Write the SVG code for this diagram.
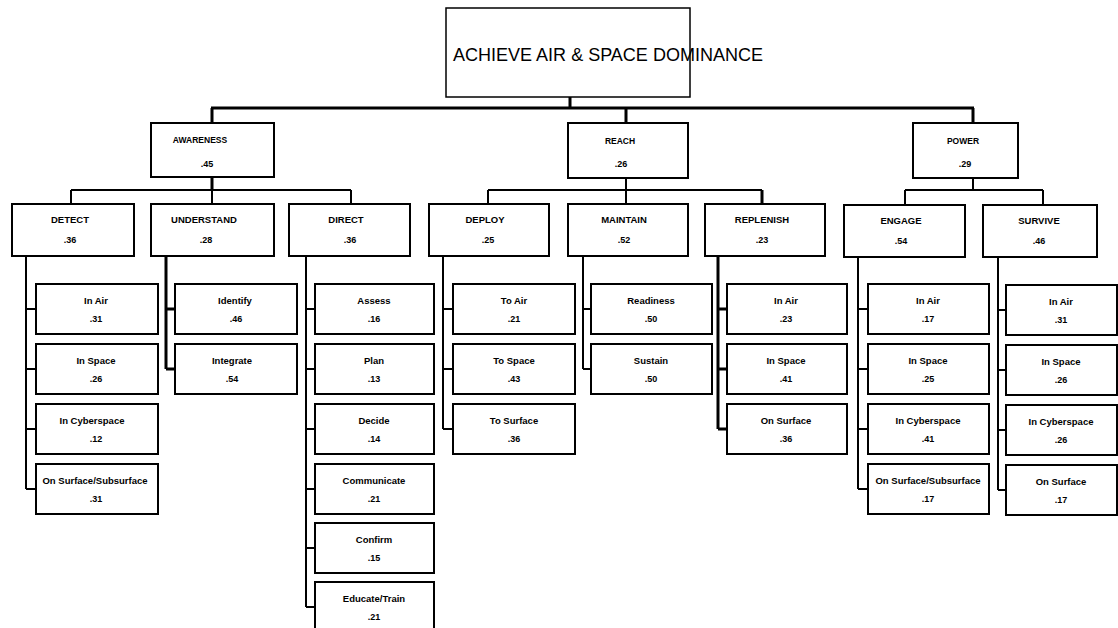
<svg xmlns="http://www.w3.org/2000/svg" width="1118" height="628" viewBox="0 0 1118 628">
<style>
rect.b{fill:#fff;stroke:#000;stroke-width:2}
rect.top{fill:#fff;stroke:#000;stroke-width:1.5}
.c path{fill:none;stroke:#000;stroke-width:2}
.c path.t{stroke-width:3}
text{font-family:"Liberation Sans",Arial,sans-serif;fill:#000;text-anchor:middle}
.h{font-size:18px}
.l1{font-size:8.5px;font-weight:bold}
.l2{font-size:9.5px;font-weight:bold}
.l3{font-size:9.5px;font-weight:bold}
.v{font-size:9px;font-weight:bold}
</style>
<rect width="1118" height="628" fill="#fff"/>
<g class="c" id="connectors">
<path class="t" d="M570 97V108M211 108H974M212 108V123M626 108V123M973 108V123"/>
<path class="t" d="M212 177V190"/>
<path d="M71 190H351M71 190V204M212 190V204M351 190V204"/>
<path d="M626 178V190M488 190H762M488 190V204M626 190V204"/>
<path class="t" d="M762 190V204"/>
<path d="M973 178V190M905 190H1043M905 190V205M1043 190V205"/>
<path d="M26 256V489M26 309H36M26 369H36M26 429H36M26 489H36"/>
<path class="t" d="M166 256V369M166 309H175M166 369H175"/>
<path d="M306 256V607M306 309H315M306 369H315M306 429H315M306 489H315M306 548H315M306 607H315"/>
<path d="M443 256V429M443 309H453M443 369H453M443 429H453"/>
<path d="M583 256V369M583 309H591M583 369H591"/>
<path class="t" d="M718 256V429M718 309H727M718 369H727M718 429H727"/>
<path d="M858 257V489M858 309H868M858 369H868M858 429H868M858 489H868"/>
<path d="M998 257V490M998 310H1006M998 370H1006M998 430H1006M998 490H1006"/>
</g>
<g id="root"><rect class="top" x="446" y="8" width="244" height="89"/><text class="h" x="453" y="61" style="text-anchor:start" textLength="310" lengthAdjust="spacingAndGlyphs">ACHIEVE AIR &amp; SPACE DOMINANCE</text></g>
<g id="awareness"><rect class="b" x="151" y="123" width="123" height="54"/><text class="l1" x="200" y="143">AWARENESS</text><text class="v" x="207" y="167">.45</text></g>
<g id="reach"><rect class="b" x="568" y="123" width="120" height="55"/><text class="l1" x="620" y="144">REACH</text><text class="v" x="621" y="167">.26</text></g>
<g id="power"><rect class="b" x="913" y="123" width="105" height="55"/><text class="l1" x="963" y="144">POWER</text><text class="v" x="965" y="167">.29</text></g>

<g id="detect"><rect class="b" x="12" y="204" width="122" height="52"/><text class="l2" x="70" y="223">DETECT</text><text class="v" x="70" y="243">.36</text></g>
<g id="understand"><rect class="b" x="151" y="204" width="123" height="52"/><text class="l2" x="204" y="223">UNDERSTAND</text><text class="v" x="206" y="243">.28</text></g>
<g id="direct"><rect class="b" x="289" y="204" width="121" height="52"/><text class="l2" x="346" y="223">DIRECT</text><text class="v" x="350" y="243">.36</text></g>
<g id="deploy"><rect class="b" x="429" y="204" width="120" height="52"/><text class="l2" x="485" y="223">DEPLOY</text><text class="v" x="488" y="243">.25</text></g>
<g id="maintain"><rect class="b" x="568" y="204" width="120" height="52"/><text class="l2" x="624" y="223">MAINTAIN</text><text class="v" x="624" y="243">.52</text></g>
<g id="replenish"><rect class="b" x="705" y="204" width="120" height="52"/><text class="l2" x="762" y="223">REPLENISH</text><text class="v" x="762" y="243">.23</text></g>
<g id="engage"><rect class="b" x="844" y="205" width="121" height="52"/><text class="l2" x="901" y="224">ENGAGE</text><text class="v" x="901" y="244">.54</text></g>
<g id="survive"><rect class="b" x="983" y="205" width="114" height="52"/><text class="l2" x="1039" y="224">SURVIVE</text><text class="v" x="1039" y="244">.46</text></g>

<g id="detect-inair"><rect class="b" x="36" y="284" width="122" height="50"/><text class="l3" x="96" y="304">In Air</text><text class="v" x="96" y="322">.31</text></g>
<g id="detect-inspace"><rect class="b" x="36" y="344" width="122" height="50"/><text class="l3" x="96" y="364">In Space</text><text class="v" x="96" y="382">.26</text></g>
<g id="detect-incyber"><rect class="b" x="36" y="404" width="122" height="50"/><text class="l3" x="92" y="424">In Cyberspace</text><text class="v" x="96" y="442">.12</text></g>
<g id="detect-onsurface"><rect class="b" x="36" y="464" width="122" height="50"/><text class="l3" x="95" y="484">On Surface/Subsurface</text><text class="v" x="96" y="502">.31</text></g>

<g id="identify"><rect class="b" x="175" y="284" width="122" height="50"/><text class="l3" x="235" y="304">Identify</text><text class="v" x="236" y="322">.46</text></g>
<g id="integrate"><rect class="b" x="175" y="344" width="122" height="50"/><text class="l3" x="232" y="364">Integrate</text><text class="v" x="232" y="382">.54</text></g>

<g id="assess"><rect class="b" x="315" y="284" width="119" height="50"/><text class="l3" x="374" y="304">Assess</text><text class="v" x="374" y="322">.16</text></g>
<g id="plan"><rect class="b" x="315" y="344" width="119" height="50"/><text class="l3" x="374" y="364">Plan</text><text class="v" x="374" y="382">.13</text></g>
<g id="decide"><rect class="b" x="315" y="404" width="119" height="50"/><text class="l3" x="374" y="424">Decide</text><text class="v" x="374" y="442">.14</text></g>
<g id="communicate"><rect class="b" x="315" y="464" width="119" height="50"/><text class="l3" x="374" y="484">Communicate</text><text class="v" x="374" y="502">.21</text></g>
<g id="confirm"><rect class="b" x="315" y="523" width="119" height="50"/><text class="l3" x="374" y="543">Confirm</text><text class="v" x="374" y="561">.15</text></g>
<g id="educate"><rect class="b" x="315" y="582" width="119" height="50"/><text class="l3" x="374" y="602">Educate/Train</text><text class="v" x="374" y="620">.21</text></g>

<g id="to-air"><rect class="b" x="453" y="284" width="122" height="50"/><text class="l3" x="514" y="304">To Air</text><text class="v" x="514" y="322">.21</text></g>
<g id="to-space"><rect class="b" x="453" y="344" width="122" height="50"/><text class="l3" x="514" y="364">To Space</text><text class="v" x="514" y="382">.43</text></g>
<g id="to-surface"><rect class="b" x="453" y="404" width="122" height="50"/><text class="l3" x="514" y="424">To Surface</text><text class="v" x="514" y="442">.36</text></g>

<g id="readiness"><rect class="b" x="591" y="284" width="121" height="50"/><text class="l3" x="651" y="304">Readiness</text><text class="v" x="651" y="322">.50</text></g>
<g id="sustain"><rect class="b" x="591" y="344" width="121" height="50"/><text class="l3" x="651" y="364">Sustain</text><text class="v" x="651" y="382">.50</text></g>

<g id="rep-inair"><rect class="b" x="727" y="284" width="120" height="50"/><text class="l3" x="786" y="304">In Air</text><text class="v" x="786" y="322">.23</text></g>
<g id="rep-inspace"><rect class="b" x="727" y="344" width="120" height="50"/><text class="l3" x="786" y="364">In Space</text><text class="v" x="786" y="382">.41</text></g>
<g id="rep-onsurface"><rect class="b" x="727" y="404" width="120" height="50"/><text class="l3" x="786" y="424">On Surface</text><text class="v" x="786" y="442">.36</text></g>

<g id="eng-inair"><rect class="b" x="868" y="284" width="121" height="50"/><text class="l3" x="928" y="304">In Air</text><text class="v" x="928" y="322">.17</text></g>
<g id="eng-inspace"><rect class="b" x="868" y="344" width="121" height="50"/><text class="l3" x="928" y="364">In Space</text><text class="v" x="928" y="382">.25</text></g>
<g id="eng-incyber"><rect class="b" x="868" y="404" width="121" height="50"/><text class="l3" x="928" y="424">In Cyberspace</text><text class="v" x="928" y="442">.41</text></g>
<g id="eng-onsurface"><rect class="b" x="868" y="464" width="121" height="50"/><text class="l3" x="928" y="484">On Surface/Subsurface</text><text class="v" x="928" y="502">.17</text></g>

<g id="sur-inair"><rect class="b" x="1006" y="285" width="111" height="50"/><text class="l3" x="1061" y="305">In Air</text><text class="v" x="1061" y="323">.31</text></g>
<g id="sur-inspace"><rect class="b" x="1006" y="345" width="111" height="50"/><text class="l3" x="1061" y="365">In Space</text><text class="v" x="1061" y="383">.26</text></g>
<g id="sur-incyber"><rect class="b" x="1006" y="405" width="111" height="50"/><text class="l3" x="1061" y="425">In Cyberspace</text><text class="v" x="1061" y="443">.26</text></g>
<g id="sur-onsurface"><rect class="b" x="1006" y="465" width="111" height="50"/><text class="l3" x="1061" y="485">On Surface</text><text class="v" x="1061" y="503">.17</text></g>
</svg>
